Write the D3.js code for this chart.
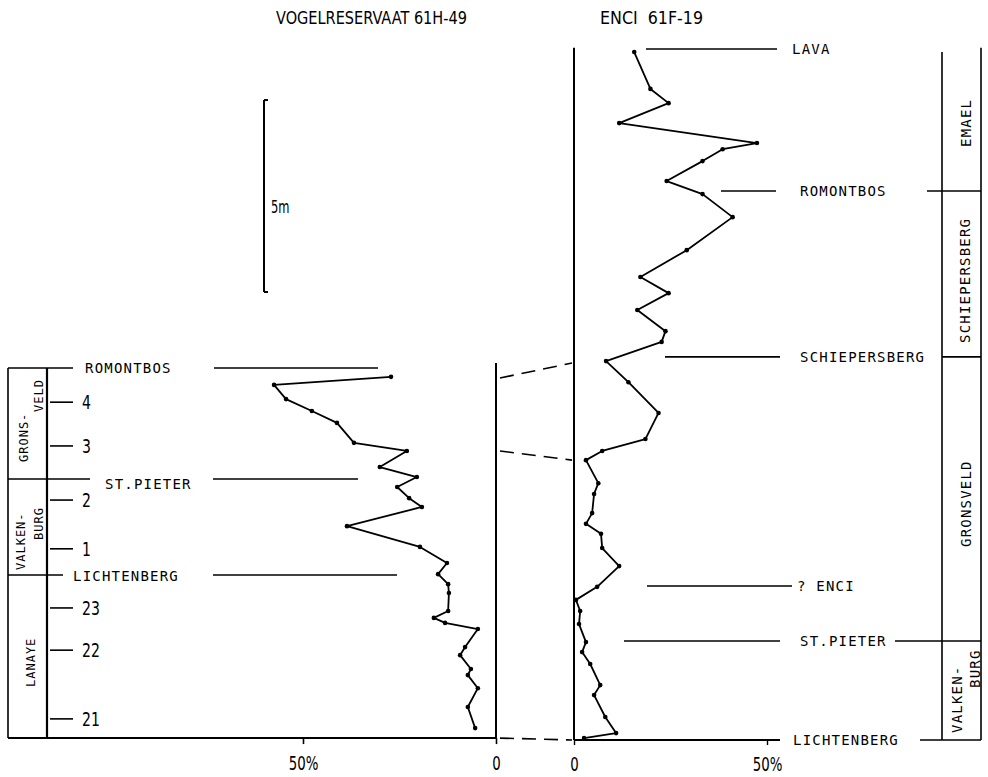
<!DOCTYPE html>
<html>
<head>
<meta charset="utf-8">
<script src="https://cdn.jsdelivr.net/npm/d3@7/dist/d3.min.js"></script>
<style>
body{margin:0;background:#fff}
.narrow{font-family:"DejaVu Sans Condensed","Liberation Sans Narrow",sans-serif}
.mono{font-family:"DejaVu Sans Mono",monospace}
</style>
</head>
<body>
<div id="viz-container"></div>
<script>
// heights in metres above base of section, values in %
let leftHeight=[9.46,9.25,8.88,8.57,8.26,7.74,7.53,7.11,6.85,6.59,6.30,6.07,5.57,5.03,4.61,4.32,4.06,3.83,3.36,3.18,3.05,2.89,2.42,2.21,1.85,1.69,1.35,0.86,0.31];
let leftValue=[27.2,57.5,54.4,47.7,41.2,36.8,23.1,30.1,20.5,25.6,22.5,19.2,38.6,19.7,12.7,15.0,12.4,12.2,12.4,16.1,13.2,4.7,8.0,9.3,6.5,7.3,4.7,7.3,5.4];

let rightHeight=[17.92,16.96,16.59,16.07,15.55,15.39,15.08,14.56,14.22,13.62,12.76,12.06,11.64,11.20,10.65,10.37,9.87,9.32,8.52,7.84,7.53,7.29,6.69,6.41,5.91,5.63,5.37,5.00,4.53,3.99,3.65,3.36,3.02,2.55,2.29,1.98,1.43,1.17,0.60,0.18,0.05];
let rightValue=[15.6,19.8,24.5,11.7,47.4,38.5,33.3,24.0,33.3,41.1,29.2,17.2,24.5,16.4,23.7,22.7,8.3,14.1,21.9,18.5,7.3,3.1,6.3,5.2,4.7,3.1,7.0,7.3,11.7,6.0,0.5,1.6,1.3,3.1,2.1,4.2,6.8,5.2,8.1,10.9,2.6];

let xTicks=[0,50];

let leftHorizons=["ROMONTBOS","ST.PIETER","LICHTENBERG"];
let leftHorizonHeight=[9.69,6.8,4.30];
let leftUnits=[["GRONS-","VELD"],["VALKEN-","BURG"],["LANAYE"]];
let layerNames=["4","3","2","1","23","22","21"];
let layerHeight=[8.80,7.66,6.25,4.98,3.44,2.34,0.55];

let rightHorizons=["LAVA","ROMONTBOS","SCHIEPERSBERG","? ENCI","ST.PIETER","LICHTENBERG"];
let rightHorizonHeight=[18.0,14.30,9.98,4.01,2.58,0];
let rightUnits=[["EMAEL"],["SCHIEPERSBERG"],["GRONSVELD"],["VALKEN-","BURG"]];

// correlation (left height, right height)
let links=[[9.43,9.82],[7.53,7.29],[0.05,0]];

let viz=d3.select("#viz-container")
  .append("svg")
    .attr("width",988)
    .attr("height",777)
    .attr("viewBox","0 0 988 777");

let y=d3.scaleLinear().domain([0,18]).range([740,49]);
let xL=d3.scaleLinear().domain([0,50]).range([496,303]);
let xR=d3.scaleLinear().domain([0,50]).range([574,767]);

function seg(x1,y1,x2,y2,w){
  viz.append("line")
    .attr("x1",x1).attr("y1",y1).attr("x2",x2).attr("y2",y2)
    .attr("stroke","#000").attr("stroke-width",w||1.6);
}

// condensed lettering, squeezed sideways
function narrowText(x,yy,size,sx,t){
  return viz.append("text").attr("class","narrow")
    .attr("transform","translate("+x+","+yy+") scale("+sx+",1)")
    .attr("font-size",size).attr("xml:space","preserve").text(t);
}

// titles
viz.append("text").attr("class","narrow").attr("x",276).attr("y",24)
  .attr("font-size",17.5).attr("textLength",191).attr("lengthAdjust","spacingAndGlyphs")
  .text("VOGELRESERVAAT 61H-49");
viz.append("text").attr("class","narrow").attr("x",600).attr("y",24)
  .attr("font-size",17.5).attr("textLength",103).attr("lengthAdjust","spacingAndGlyphs")
  .attr("xml:space","preserve").text("ENCI  61F-19");

// scale bar 5m
seg(264,y(11.67),264,y(16.67),2);
seg(264,y(16.67),268,y(16.67),2);
seg(264,y(11.67),268,y(11.67),2);
narrowText(271,213,17,0.75,"5m");

// ---------- left section ----------
seg(496,y(9.82),496,y(0.05),2);
seg(8,y(0.05),496,y(0.05),2);
seg(8,y(9.69),8,y(0.05),1.6);
seg(47,y(9.69),47,y(0.05),2.2);

let leftSegs=[[8,73,214,378],[8,90,213,358],[8,63,213,397]];
let leftLabelX=[85,105,73];
let leftLabelDy=[5,10,6];
leftHorizons.forEach(function(name,i){
  let yy=y(leftHorizonHeight[i]);
  seg(leftSegs[i][0],yy,leftSegs[i][1],yy,1.6);
  seg(leftSegs[i][2],yy,leftSegs[i][3],yy,1.6);
  viz.append("text").attr("class","mono").attr("x",leftLabelX[i]).attr("y",yy+leftLabelDy[i])
    .attr("font-size",14).attr("letter-spacing",1.2).text(name);
});

viz.selectAll(".layer").data(layerNames).enter()
  .append("line").attr("class","layer")
    .attr("x1",50).attr("x2",73)
    .attr("y1",(d,i)=>y(layerHeight[i])).attr("y2",(d,i)=>y(layerHeight[i]))
    .attr("stroke","#000").attr("stroke-width",1.6);
layerNames.forEach(function(d,i){
  narrowText(82,y(layerHeight[i])+7,20,0.78,d);
});

// rotated unit names, left column
let leftUnitPos=[[[28,462],[43,412]],[[25,570],[43,540]],[[35,687]]];
leftUnits.forEach(function(lines,i){
  lines.forEach(function(t,j){
    let p=leftUnitPos[i][j];
    viz.append("text").attr("class","mono")
      .attr("transform","translate("+p[0]+","+p[1]+") rotate(-90)")
      .attr("font-size",12).attr("letter-spacing",1).text(t);
  });
});

let lineL=d3.line().x(d=>xL(d[1])).y(d=>y(d[0]));
let leftData=leftHeight.map((h,i)=>[h,leftValue[i]]);
viz.append("path").datum(leftData).attr("d",lineL)
  .attr("fill","none").attr("stroke","#000").attr("stroke-width",1.8).attr("stroke-linejoin","round");
viz.selectAll(".ldot").data(leftData).enter()
  .append("circle").attr("class","ldot")
    .attr("cx",d=>xL(d[1])).attr("cy",d=>y(d[0])).attr("r",2.3);

let axL=viz.append("g").attr("transform","translate(0,"+y(0.05)+")")
  .call(d3.axisBottom(xL).tickValues(xTicks).tickSize(6).tickPadding(12)
    .tickFormat(d=>d==0?"0":d+"%"));
axL.select(".domain").remove();
axL.selectAll("line").attr("stroke-width",1.6);
axL.selectAll("text").attr("font-size",19).attr("class","narrow").attr("transform","scale(0.78,1)");

// ---------- correlation dashes ----------
links.forEach(function(l){
  viz.append("line")
    .attr("x1",500).attr("y1",y(l[0])).attr("x2",572).attr("y2",y(l[1]))
    .attr("stroke","#000").attr("stroke-width",1.6).attr("stroke-dasharray","14,8");
});

// ---------- right section ----------
seg(574,y(18.03),574,y(0),2);
seg(574,y(0),780,y(0),2);
seg(942,y(17.92),942,y(0),1.6);
seg(981,y(18.03),981,y(0),1.6);

let rightSegs=[[646,777,0,0],[721,776,927,981],[665,780,942,981],[647,792,0,0],[624,780,895,981],[0,0,920,981]];
let rightLabelX=[792,800,800,797,800,793];
rightHorizons.forEach(function(name,i){
  let yy=y(rightHorizonHeight[i]);
  let s=rightSegs[i];
  if(s[1]>s[0]) seg(s[0],yy,s[1],yy,1.6);
  if(s[3]>s[2]) seg(s[2],yy,s[3],yy,1.6);
  viz.append("text").attr("class","mono").attr("x",rightLabelX[i]).attr("y",yy+5)
    .attr("font-size",14).attr("letter-spacing",1.2).attr("xml:space","preserve").text(name);
});

let rightUnitPos=[[[971,147]],[[970,343]],[[971,547]],[[962,733],[980,688]]];
rightUnits.forEach(function(lines,i){
  lines.forEach(function(t,j){
    let p=rightUnitPos[i][j];
    viz.append("text").attr("class","mono")
      .attr("transform","translate("+p[0]+","+p[1]+") rotate(-90)")
      .attr("font-size",14).attr("letter-spacing",1.2).text(t);
  });
});

let lineR=d3.line().x(d=>xR(d[1])).y(d=>y(d[0]));
let rightData=rightHeight.map((h,i)=>[h,rightValue[i]]);
viz.append("path").datum(rightData).attr("d",lineR)
  .attr("fill","none").attr("stroke","#000").attr("stroke-width",1.8).attr("stroke-linejoin","round");
viz.selectAll(".rdot").data(rightData).enter()
  .append("circle").attr("class","rdot")
    .attr("cx",d=>xR(d[1])).attr("cy",d=>y(d[0])).attr("r",2.3);

let axR=viz.append("g").attr("transform","translate(0,"+y(0)+")")
  .call(d3.axisBottom(xR).tickValues(xTicks).tickSize(5).tickPadding(13)
    .tickFormat(d=>d==0?"0":d+"%"));
axR.select(".domain").remove();
axR.selectAll("line").attr("stroke-width",1.4);
axR.selectAll("text").attr("font-size",19).attr("class","narrow").attr("transform","scale(0.78,1)");
</script>
</body>
</html>
